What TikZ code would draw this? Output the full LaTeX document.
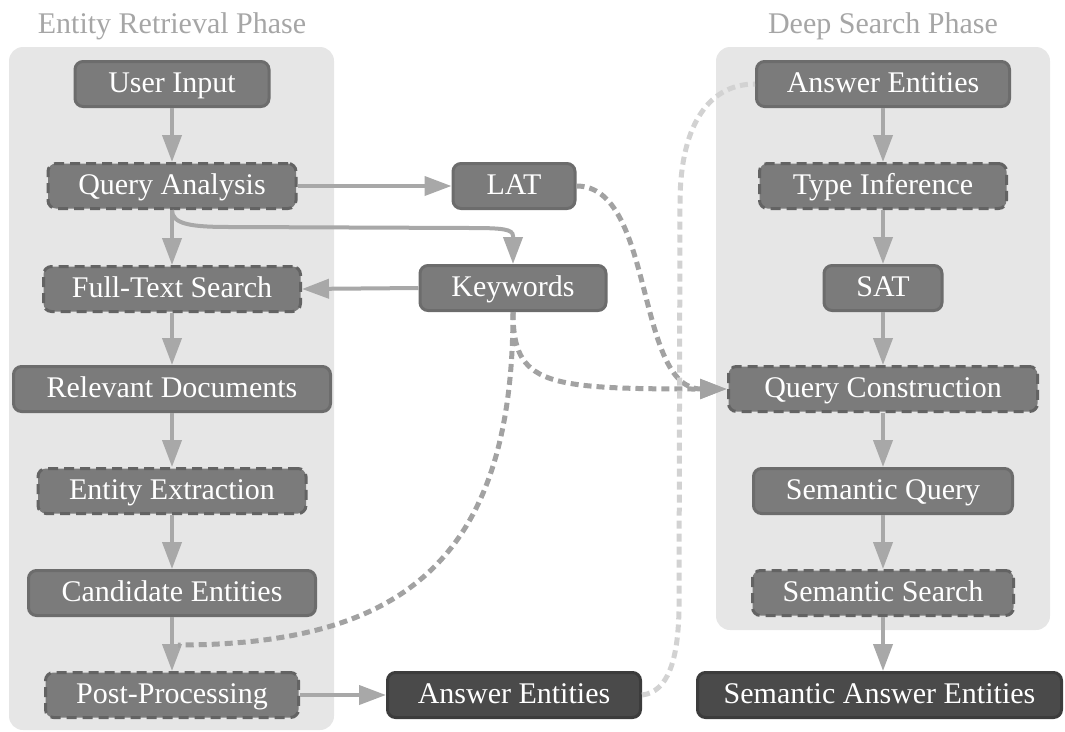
\documentclass[tikz,border=0pt]{standalone}
\usepackage{fontspec}
\setmainfont{Liberation Serif}
\usetikzlibrary{arrows.meta}
\definecolor{panelc}{HTML}{E6E6E6}
\definecolor{nodefill}{HTML}{7B7B7B}
\definecolor{nodeborder}{HTML}{6C6C6C}
\definecolor{dashborder}{HTML}{636363}
\definecolor{darkfill}{HTML}{4A4A4A}
\definecolor{darkborder}{HTML}{3C3C3C}
\definecolor{arrowc}{HTML}{A8A8A8}
\definecolor{dashc}{HTML}{A2A2A2}
\definecolor{lightdash}{HTML}{D2D2D2}
\definecolor{titlec}{HTML}{A6A6A6}
\begin{document}
\begin{tikzpicture}[x=1pt,y=-1pt,
  box/.style={rectangle, rounded corners=8pt, fill=nodefill, draw=nodeborder, line width=3pt,
    minimum height=45pt, inner sep=0pt, text=white, font=\fontsize{30}{32}\selectfont,
    text height=21pt, text depth=5pt},
  dbox/.style={box, draw=dashborder, dash pattern=on 10pt off 6pt},
  darkbox/.style={box, fill=darkfill, draw=darkborder},
  panel/.style={fill=panelc, rounded corners=14pt},
  title/.style={text=titlec, font=\fontsize{30}{32}\selectfont, anchor=base, inner sep=0pt},
  tip/.style={-{Triangle[length=27pt,width=19pt]}},
  arr/.style={draw=arrowc, line width=4pt, tip},
  dsh/.style={draw=dashc, line width=5pt, dash pattern=on 8pt off 5pt},
  ldsh/.style={draw=lightdash, line width=5pt, dash pattern=on 8pt off 5pt}]
\useasboundingbox (0,0) rectangle (1065,731);
% panels
\fill[panel] (9,47) rectangle (334,730);
\fill[panel] (716,47) rectangle (1050,630);
\node[title] (t1) at (172,33) {Entity Retrieval Phase};
\node[title] (t2) at (883,33) {Deep Search Phase};
% left column
\node[box, minimum width=194pt] (ui) at (172,84) {User Input};
\node[dbox, minimum width=248pt] (qa) at (172,186) {Query Analysis};
\node[dbox, minimum width=257pt] (fts) at (172,289) {Full-Text Search};
\node[box, minimum width=317pt] (rd) at (172,389) {Relevant Documents};
\node[dbox, minimum width=268pt] (ee) at (172,491) {Entity Extraction};
\node[box, minimum width=287pt] (ce) at (172,593) {Candidate Entities};
\node[dbox, minimum width=253pt] (pp) at (172,695) {Post-Processing};
% middle
\node[box, minimum width=122pt] (lat) at (514,186) {LAT};
\node[box, minimum width=186pt] (kw) at (513,288) {Keywords};
\node[darkbox, minimum width=253pt] (ae) at (514,695) {Answer Entities};
% right column
\node[box, minimum width=253pt] (ae2) at (883,84) {Answer Entities};
\node[dbox, minimum width=247pt] (ti) at (883,186) {Type Inference};
\node[box, minimum width=118pt] (sat) at (883,288) {SAT};
\node[dbox, minimum width=309pt] (qc) at (883,389) {Query Construction};
\node[box, minimum width=259pt] (sq) at (883,491) {Semantic Query};
\node[dbox, minimum width=261pt] (ss) at (883,593) {Semantic Search};
\node[darkbox, minimum width=364pt] (sae) at (879.5,695) {Semantic Answer Entities};
% helper coordinates
\coordinate (qk1) at (230,227);
\coordinate (qk2) at (470,228);
\coordinate (qk3) at (513,236);
\coordinate (pe) at (178,645);
\coordinate (la1) at (679,610);
\coordinate (la2) at (680,200);
% solid arrows
\draw[arr] (ui) -- (qa);
\draw[arr] (qa) -- (fts);
\draw[arr] (fts) -- (rd);
\draw[arr] (rd) -- (ee);
\draw[arr] (ee) -- (ce);
\draw[arr] (ce) -- (pp);
\draw[arr] (qa.east) -- (lat.west);
\draw[arr] (kw.west) -- (fts.east);
\draw[arr] (pp.east) -- (ae.west);
\draw[arr] (qa.south) .. controls (172,224) and (190,227) .. (qk1) -- (qk2)
   .. controls (502,228) and (513,229) .. (qk3) -- (kw.north);
\draw[arr] (ae2) -- (ti);
\draw[arr] (ti) -- (sat);
\draw[arr] (sat) -- (qc);
\draw[arr] (qc) -- (sq);
\draw[arr] (sq) -- (ss);
\draw[arr] (ss.south) -- (ss.south |- sae.north);
% dashed connectors
\draw[dsh] (kw.south) .. controls (513,559) and (403,645) .. (pe);
\draw[dsh, tip] (lat.east) .. controls (655,186) and (635,389) .. (qc.west);
\draw[dsh, tip] (kw.south) .. controls (513,385) and (545,389) .. (qc.west);
\draw[ldsh] (ae.east) .. controls (668,692) and (678,660) .. (la1) -- (la2)
   .. controls (681,120) and (712,84) .. (ae2.west);
\end{tikzpicture}
\end{document}
